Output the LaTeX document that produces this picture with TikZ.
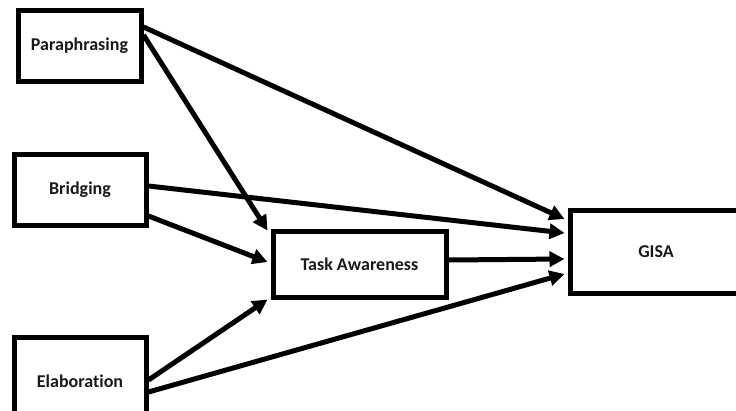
\documentclass[tikz,border=0pt]{standalone}
\usepackage{fontspec}
\setmainfont{Carlito}[Ligatures={NoCommon}]
\usetikzlibrary{arrows.meta}
\begin{document}
\begin{tikzpicture}[x=1pt,y=-1pt,
  box/.style={draw=black,line width=5pt,rectangle,inner sep=0pt,
    font=\fontsize{18}{20}\selectfont\bfseries,text=black!90},
  link/.style={line width=5pt,-{Triangle[length=15pt,width=15pt]}}]
\useasboundingbox (0,0) rectangle (736,410);
\node[box,minimum width=123pt,minimum height=71pt] (para) at (79.5,45.5) {Paraphrasing};
\node[box,minimum width=132pt,minimum height=71pt] (brid) at (80,189.5) {Bridging};
\node[box,minimum width=132pt,minimum height=88pt] (elab) at (80,381.5) {Elaboration};
\node[box,minimum width=173pt,minimum height=66pt] (ta) at (359.5,264) {Task Awareness};
\node[box,minimum width=172pt,minimum height=83pt] (gisa) at (656,252) {GISA};
\draw[link] ([yshift=18.5pt]para.east) -- ([xshift=-3pt,yshift=33pt]gisa.west);
\draw[link] ([yshift=10.5pt]para.east) -- ([xshift=-3pt,yshift=-2pt]ta.north west);
\draw[link] ([yshift=3.5pt]brid.east) -- ([xshift=-3pt,yshift=19pt]gisa.west);
\draw[link] ([yshift=-26.5pt]brid.east) -- ([xshift=-3pt,yshift=2pt]ta.west);
\draw[link] ([yshift=4pt]ta.east) -- ([xshift=-3pt,yshift=-7pt]gisa.west);
\draw[link] ([yshift=1.5pt]elab.east) -- ([xshift=-3pt]ta.south west);
\draw[link] ([yshift=-10.5pt]elab.east) -- ([xshift=-3pt,yshift=-22pt]gisa.west);
\end{tikzpicture}
\end{document}
